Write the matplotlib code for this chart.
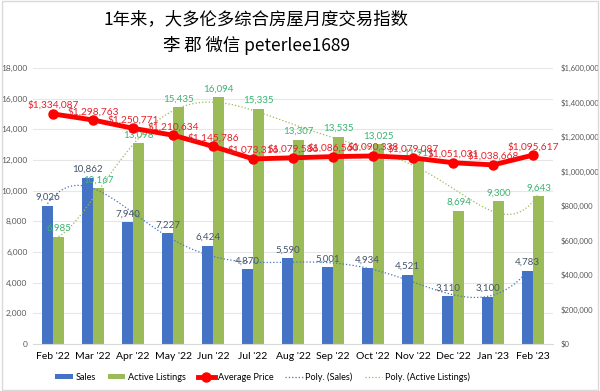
import matplotlib
matplotlib.use("Agg")
from matplotlib import pyplot as plt
from matplotlib.patches import Rectangle
from matplotlib.ticker import FuncFormatter
import numpy as np

plt.rcParams['font.family'] = ['Lato', 'Noto Sans CJK SC', 'DejaVu Sans']

months = ["Feb '22", "Mar '22", "Apr '22", "May '22", "Jun '22", "Jul '22", "Aug '22",
          "Sep '22", "Oct '22", "Nov '22", "Dec '22", "Jan '23", "Feb '23"]
sales = [9026, 10862, 7940, 7227, 6424, 4870, 5590, 5001, 4934, 4521, 3110, 3100, 4783]
active = [6985, 10167, 13098, 15435, 16094, 15335, 13307, 13535, 13025, 11911, 8694, 9300, 9643]
price = [1334087, 1298763, 1250771, 1210634, 1145786, 1073316, 1079586, 1086560,
         1090338, 1079087, 1051031, 1038668, 1095617]

blue = '#4472C4'
green = '#9BBB59'
red = '#FF0000'

fig = plt.figure(figsize=(6, 3.91), dpi=100)
fig.patches.append(Rectangle((0.003, 0.003), 0.994, 0.994, transform=fig.transFigure,
                             fill=False, edgecolor='#D9D9D9', linewidth=1))
ax = fig.add_axes([0.055, 0.12, 0.867, 0.706])
x = np.arange(len(months))
w = 0.275

ax.bar(x - w / 2, sales, w, color=blue, label='Sales', zorder=2)
ax.bar(x + w / 2, active, w, color=green, label='Active Listings', zorder=2)

# polynomial trendlines (Excel-style, order 6)
xs = np.linspace(0, len(months) - 1, 300)
ps = np.polyval(np.polyfit(x, sales, 6), xs)
pa = np.polyval(np.polyfit(x, active, 6), xs)
l_ps, = ax.plot(xs - w / 2, ps, ':', color=blue, linewidth=0.9, zorder=3, label='Poly. (Sales)')
l_pa, = ax.plot(xs + w / 2, pa, ':', color=green, linewidth=0.9, zorder=3,
                label='Poly. (Active Listings)')

for i in range(len(months)):
    ax.text(x[i] - w / 2, sales[i] + 250, f'{sales[i]:,}', ha='center', va='bottom',
            fontsize=7, color='#44546A', zorder=5)
    ax.text(x[i] + w / 2, active[i] + 250, f'{active[i]:,}', ha='center', va='bottom',
            fontsize=7, color='#3CB371', zorder=5)

ax.set_ylim(0, 18000)
ax.set_yticks(range(0, 18001, 2000))
ax.yaxis.set_major_formatter(FuncFormatter(lambda v, p: f'{int(v):,}'))
ax.set_xlim(-0.5, len(months) - 0.5)
ax.set_xticks(x)
ax.set_xticklabels(months, fontsize=7.5)
ax.tick_params(axis='y', labelsize=6, colors='#595959', length=0, pad=4)
ax.tick_params(axis='x', length=0, pad=6)
ax.grid(axis='y', color='#E7E7E7', linewidth=0.8, zorder=0)
for s in ['top', 'right', 'left']:
    ax.spines[s].set_visible(False)
ax.spines['bottom'].set_color('#D9D9D9')
ax.set_axisbelow(True)

ax2 = ax.twinx()
l_pr, = ax2.plot(x, price, '-o', color=red, linewidth=3.5, markersize=6.5, label='Average Price',
                 zorder=4)
for i in range(len(months)):
    ax2.text(x[i], price[i] + 22000, f'${price[i]:,}', ha='center', va='bottom',
             fontsize=7.3, color='#E8202A', zorder=5)
ax2.set_ylim(0, 1600000)
ax2.set_yticks(range(0, 1600001, 200000))
ax2.yaxis.set_major_formatter(FuncFormatter(lambda v, p: f'${int(v):,}'))
ax2.tick_params(axis='y', labelsize=5.5, colors='#595959', length=0, pad=5)
for s in ax2.spines.values():
    s.set_visible(False)

handles = [ax.containers[0], ax.containers[1], l_pr, l_ps, l_pa]
fig.legend(handles=handles, labels=[h.get_label() for h in handles], loc='center',
           bbox_to_anchor=(0.4375, 0.036), ncol=5, frameon=False, fontsize=6.6,
           handlelength=1.9, handleheight=0.6, columnspacing=1.3, handletextpad=0.3)

fig.text(0.427, 0.95, '1年来，大多伦多综合房屋月度交易指数', ha='center', va='center',
         fontsize=12.5, family=['Noto Sans CJK SC', 'DejaVu Sans'])
fig.text(0.427, 0.883, '李 郡 微信 peterlee1689', ha='center', va='center',
         fontsize=12.5, family=['Noto Sans CJK SC', 'DejaVu Sans'])

fig.savefig('out.png', dpi=100)
